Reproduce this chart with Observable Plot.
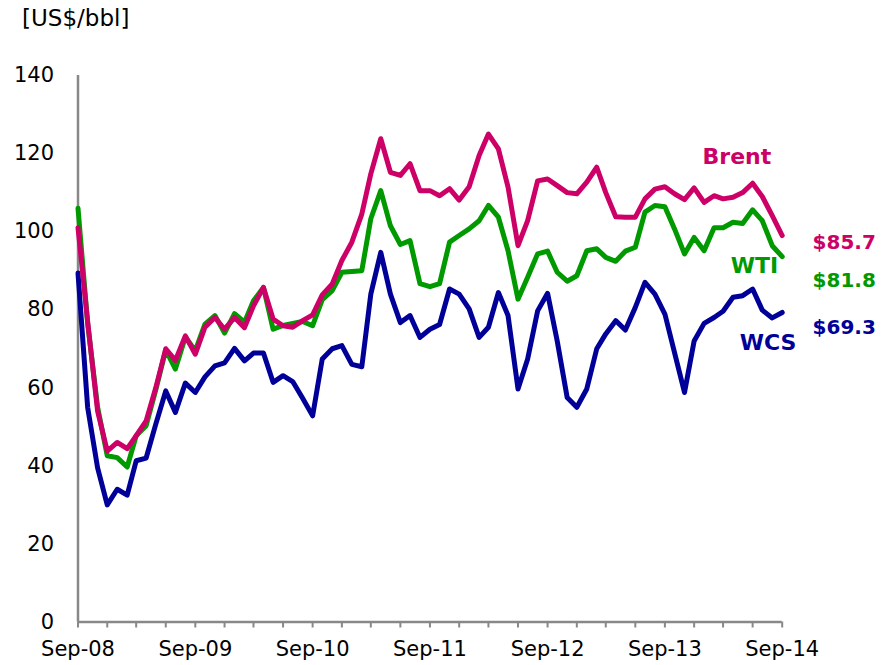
<!DOCTYPE html>
<html>
<head>
<meta charset="utf-8">
<script src="https://cdn.jsdelivr.net/npm/d3@7"></script>
<script src="https://cdn.jsdelivr.net/npm/@observablehq/plot@0.6"></script>
<style>
  body { margin: 0; background: #fff; font-family: "DejaVu Sans", sans-serif; }
  #unit { height: 36px; line-height: 36px; padding-left: 22px; font-size: 23px; color: #000; }
</style>
</head>
<body>
<div id="unit">[US$/bbl]</div>
<div id="chart"></div>
<script>
// Monthly prices, Sep-08 .. Sep-14 (73 months)
const brent = [101, 77, 54, 43.8, 46, 44.4, 47.7, 51.5, 60, 70, 67, 73.3, 68.6,
  75.5, 78, 75, 78, 75.4, 81, 85.7, 77.6, 75.9, 75.5, 77.2, 78.7,
  83.8, 86.6, 92.6, 97.3, 104.5, 114.8, 123.8, 115.2, 114.4, 117.4, 110.5, 110.5,
  109.2, 111, 108.1, 111.5, 119.5, 125, 121.2, 111.4, 96.4, 102.8, 113, 113.5,
  111.8, 110, 109.7, 112.7, 116.5, 110, 103.8, 103.7, 103.7, 108.4, 110.9, 111.5,
  109.7, 108.2, 111.2, 107.5, 109.2, 108.4, 108.8, 110, 112.4, 109, 104.1, 99];
const wti = [106, 76.5, 55, 42.6, 42.1, 39.7, 47.7, 50.3, 59.5, 69.7, 64.8, 73, 69.5,
  76.3, 78.5, 74, 79, 76.8, 82.3, 85.7, 75, 76, 76.5, 77, 75.9,
  82.6, 84.9, 89.6, 89.8, 90, 103.3, 110.5, 101.5, 96.7, 97.7, 86.7, 85.9,
  86.7, 97.3, 99, 100.7, 102.8, 106.7, 103.7, 95.1, 82.7, 88.3, 94.3, 95,
  89.6, 87.3, 88.7, 95.1, 95.6, 93.4, 92.4, 95, 96, 105, 106.7, 106.4,
  100.7, 94.3, 98.5, 95.1, 101, 101, 102.4, 102.1, 105.6, 102.8, 96.4, 93.6];
const wcs = [89.4, 55, 39.5, 30, 34, 32.5, 41.3, 42, 50.7, 59.2, 53.7, 61.2, 58.8,
  62.8, 65.6, 66.4, 70.1, 66.9, 68.9, 68.9, 61.4, 63.1, 61.6, 57.3, 52.8,
  67.4, 70, 70.8, 66, 65.4, 84, 94.7, 84, 76.7, 78.5, 72.9, 75,
  76.2, 85.3, 84, 80.2, 72.9, 75.5, 84.4, 78.5, 59.7, 67.4, 79.7, 84.2,
  72, 57.5, 55, 59.7, 70, 73.8, 77.2, 74.8, 80.6, 87, 84, 78.9,
  69, 58.8, 72, 76.5, 78, 79.6, 83.2, 83.6, 85.3, 79.9, 77.9, 79.3];

const yTicks = [0, 20, 40, 60, 80, 100, 120, 140];
const xTickLabels = ["Sep-08", "Sep-09", "Sep-10", "Sep-11", "Sep-12", "Sep-13", "Sep-14"];

const seriesNames = ["Brent", "WTI", "WCS"];
const seriesColors = ["#CC0066", "#009900", "#000099"];
const lastValues = ["$85.7", "$81.8", "$69.3"];
// annotation anchors (data space)
const nameDates = [new Date(Date.UTC(2014, 3, 13)), new Date(Date.UTC(2014, 5, 7)), new Date(Date.UTC(2014, 6, 19))];
const nameValues = [119.2, 91.2, 71.5];
const valueDates = [new Date(Date.UTC(2015, 2, 13)), new Date(Date.UTC(2015, 2, 13)), new Date(Date.UTC(2015, 2, 13))];
const valueValues = [97.2, 87.4, 75.4];

const start = new Date(Date.UTC(2008, 8, 1));
const end = new Date(Date.UTC(2014, 8, 1));
const months = d3.utcMonth.range(start, d3.utcDay.offset(end, 1));
const xTicks = d3.utcMonth.range(start, d3.utcDay.offset(end, 1), 3);

const toRows = (vals, name) => vals.map((v, i) => ({date: months[i], value: v, series: name}));
const rows = [toRows(brent, "Brent"), toRows(wti, "WTI"), toRows(wcs, "WCS")];

const names = seriesNames.map((n, i) => ({text: n, date: nameDates[i], value: nameValues[i], color: seriesColors[i]}));
const vals = lastValues.map((t, i) => ({text: t, date: valueDates[i], value: valueValues[i], color: seriesColors[i]}));

const chart = Plot.plot({
  width: 882,
  height: 629,
  marginTop: 39,
  marginBottom: 43.5,
  marginLeft: 77.5,
  marginRight: 100.3,
  style: {fontFamily: "DejaVu Sans, sans-serif", fontSize: "21px", color: "#000", background: "#fff", overflow: "visible"},
  x: {type: "utc", domain: [start, end]},
  y: {domain: [0, 140]},
  marks: [
    Plot.axisY({ticks: yTicks, tickSize: 0, tickPadding: 24, label: null, fill: "#000", fontSize: 21}),
    Plot.axisX({ticks: xTicks, tickSize: 6, tickPadding: 13, label: null, stroke: "#888", strokeWidth: 2, fill: "#000", fontSize: 21,
      tickFormat: d => d.getUTCMonth() === 8 ? xTickLabels[d.getUTCFullYear() - 2008] : ""}),
    Plot.ruleY([0], {stroke: "#888", strokeWidth: 2.5}),
    Plot.ruleX([start], {y1: 0, y2: 140, stroke: "#888", strokeWidth: 2.5}),
    Plot.line(rows[2], {x: "date", y: "value", stroke: seriesColors[2], strokeWidth: 5, strokeLinejoin: "round"}),
    Plot.line(rows[1], {x: "date", y: "value", stroke: seriesColors[1], strokeWidth: 5, strokeLinejoin: "round"}),
    Plot.line(rows[0], {x: "date", y: "value", stroke: seriesColors[0], strokeWidth: 5, strokeLinejoin: "round"}),
    Plot.text(names, {x: "date", y: "value", text: "text", fill: d => d.color, fontWeight: "bold", fontSize: 22, textAnchor: "middle"}),
    Plot.text(vals, {x: "date", y: "value", text: "text", fill: d => d.color, fontWeight: "bold", fontSize: 20, textAnchor: "middle"})
  ]
});
document.getElementById("chart").appendChild(chart);
</script>
</body>
</html>
